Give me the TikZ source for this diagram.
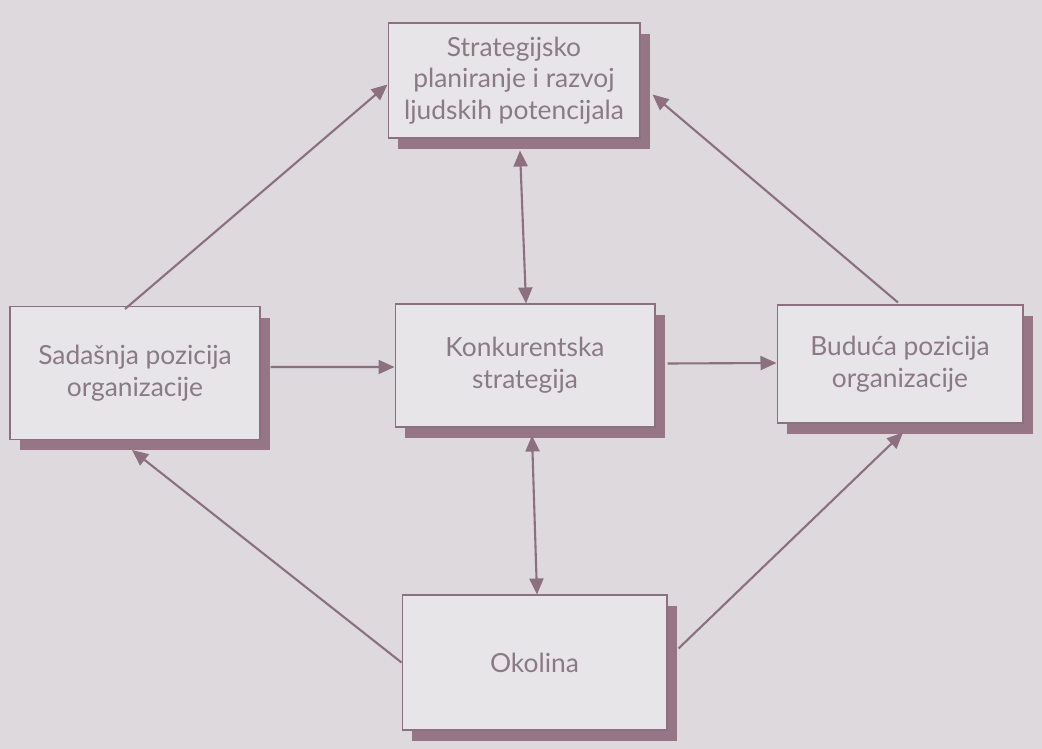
\documentclass[tikz,border=0pt]{standalone}
\usepackage{fontspec}
\setmainfont{Lato}
\usetikzlibrary{shadows,calc,arrows.meta}
\definecolor{bgcol}{RGB}{221,217,221}
\definecolor{boxcol}{RGB}{232,229,232}
\definecolor{linecol}{RGB}{140,112,128}
\definecolor{shadcol}{RGB}{150,118,134}
\definecolor{txtcol}{RGB}{138,122,133}
\tikzset{
  stratbox/.style={draw=linecol, line width=0.6pt, fill=boxcol, align=center,
    text=txtcol, font=\fontsize{15}{18}\selectfont, inner sep=0pt,
    drop shadow={shadow xshift=0.2cm, shadow yshift=-0.22cm, fill=shadcol, opacity=1}},
  flow/.style={draw=linecol, line width=1.2pt, -{Triangle[length=0.32cm,width=0.28cm]}},
  biflow/.style={draw=linecol, line width=1.2pt, {Triangle[length=0.32cm,width=0.28cm]}-{Triangle[length=0.32cm,width=0.28cm]}}
}
\begin{document}
\begin{tikzpicture}[x=0.02cm, y=-0.02cm]
\fill[bgcol] (0,0) rectangle (1042,749);
\useasboundingbox (0,0) rectangle (1042,749);
\node[stratbox, minimum width=5.04cm, minimum height=2.3cm] (T) at (514,80.5) {Strategijsko\\planiranje i razvoj\\ljudskih potencijala};
\node[stratbox, minimum width=5.0cm, minimum height=2.66cm] (L) at (135,373) {Sadašnja pozicija\\organizacije};
\node[stratbox, minimum width=5.2cm, minimum height=2.46cm] (C) at (525,365.5) {Konkurentska\\strategija};
\node[stratbox, minimum width=4.92cm, minimum height=2.36cm] (R) at (900,364) {Buduća pozicija\\organizacije};
\node[stratbox, minimum width=5.3cm, minimum height=2.7cm] (B) at (534.5,662.5) {Okolina};
% diagonals
\draw[flow] ($(L.north)+(-10,3)$) -- ($(T.west)+(0,4)$);
\draw[flow] ($(R.north)+(-2,-2)$) -- ($(T.east)+(12,14)$);
\draw[flow] ($(B.west)+(0,0)$) -- ($(L.south)+(-3,10)$);
\draw[flow] ($(B.east)+(11,-14)$) -- ($(R.south)+(3,9)$);
% horizontals
\draw[flow] ($(L.east)+(10,-6)$) -- ($(C.west)+(0,1.5)$);
\draw[flow] ($(C.east)+(12,-2)$) -- ($(R.west)+(0,-1)$);
% verticals
\draw[biflow] ($(T.south)+(6,12)$) -- ($(C.north)+(1,0)$);
\draw[biflow] ($(C.south)+(7,8)$) -- ($(B.north)+(2.5,0)$);
\end{tikzpicture}
\end{document}
